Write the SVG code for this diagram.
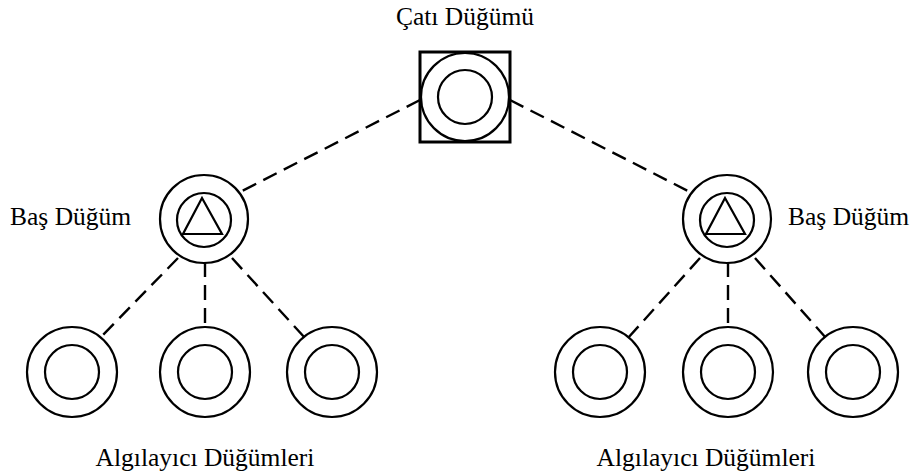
<svg xmlns="http://www.w3.org/2000/svg" width="914" height="476" viewBox="0 0 914 476">
  <style>
    .ring { fill: #fff; stroke: #000; stroke-width: 2.2; }
    .box { fill: #fff; stroke: #000; stroke-width: 3; }
    .tri { fill: none; stroke: #000; stroke-width: 2.2; stroke-linejoin: miter; }
    .link { stroke: #000; stroke-width: 2.4; stroke-dasharray: 15 8; fill: none; }
    .lbl { font-family: 'Liberation Serif', 'DejaVu Serif', serif; font-size: 25.5px; fill: #000; }
  </style>
  <rect width="914" height="476" fill="#fff"/>

  <!-- dashed connectors -->
  <g id="connectors">
    <line class="link" x1="420" y1="100" x2="240" y2="192"/>
    <line class="link" x1="510" y1="100" x2="690" y2="192"/>
    <line class="link" x1="178" y1="258" x2="100" y2="338"/>
    <line class="link" x1="205" y1="262" x2="205" y2="327"/>
    <line class="link" x1="232" y1="258" x2="305" y2="338"/>
    <line class="link" x1="700" y1="258" x2="628" y2="338"/>
    <line class="link" x1="728" y1="262" x2="728" y2="327"/>
    <line class="link" x1="755" y1="258" x2="826" y2="338"/>
  </g>

  <!-- root node -->
  <g id="root">
    <rect class="box" x="420" y="52" width="90" height="90"/>
    <circle class="ring" cx="465" cy="97" r="44"/>
    <circle class="ring" cx="465" cy="97" r="27"/>
    <text class="lbl" x="465" y="25" text-anchor="middle">Çatı Düğümü</text>
  </g>

  <!-- cluster heads -->
  <g id="head-left">
    <circle class="ring" cx="204" cy="219" r="44"/>
    <circle class="ring" cx="204" cy="220" r="27"/>
    <polygon class="tri" points="202,198 183,234 222,234"/>
    <text class="lbl" x="10" y="225">Baş Düğüm</text>
  </g>
  <g id="head-right">
    <circle class="ring" cx="727" cy="219" r="44"/>
    <circle class="ring" cx="727" cy="220" r="27"/>
    <polygon class="tri" points="725,198 706,234 745,234"/>
    <text class="lbl" x="788" y="225">Baş Düğüm</text>
  </g>

  <!-- sensor nodes -->
  <g id="sensor-l1"><circle class="ring" cx="72" cy="372" r="45"/><circle class="ring" cx="72" cy="372" r="27"/></g>
  <g id="sensor-l2"><circle class="ring" cx="205" cy="372" r="45"/><circle class="ring" cx="205" cy="372" r="27"/></g>
  <g id="sensor-l3"><circle class="ring" cx="332" cy="372" r="45"/><circle class="ring" cx="332" cy="372" r="27"/></g>
  <g id="sensor-r1"><circle class="ring" cx="600" cy="372" r="45"/><circle class="ring" cx="600" cy="372" r="27"/></g>
  <g id="sensor-r2"><circle class="ring" cx="728" cy="372" r="45"/><circle class="ring" cx="728" cy="372" r="27"/></g>
  <g id="sensor-r3"><circle class="ring" cx="853" cy="372" r="45"/><circle class="ring" cx="853" cy="372" r="27"/></g>

  <g id="sensor-labels">
    <text class="lbl" x="205" y="466" text-anchor="middle">Algılayıcı Düğümleri</text>
    <text class="lbl" x="706" y="466" text-anchor="middle">Algılayıcı Düğümleri</text>
  </g>
</svg>
